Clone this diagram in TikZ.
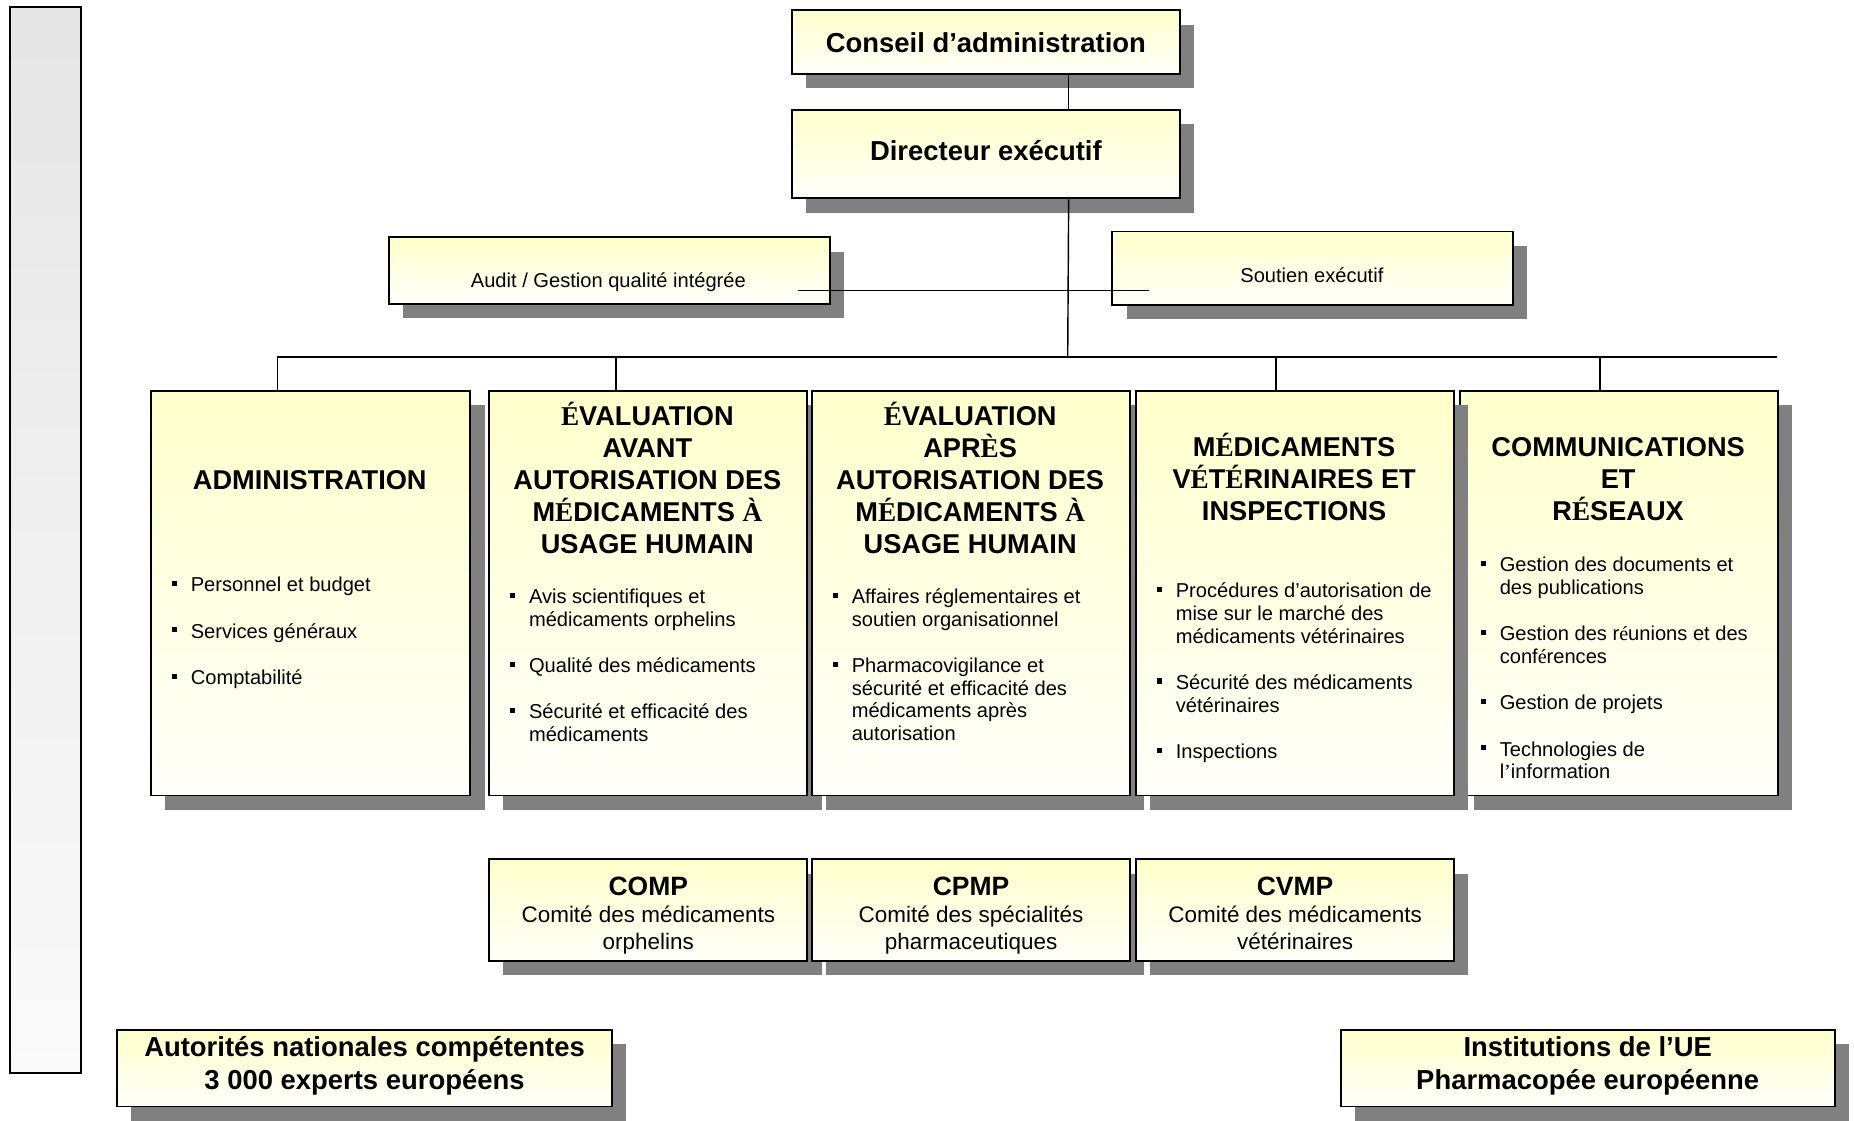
\documentclass[tikz,border=0pt]{standalone}
\usepackage{fontspec}
\setmainfont{Liberation Sans}
\newfontfamily\timesf{Liberation Serif}
\usepackage{tikz}
\usetikzlibrary{shadows}
\definecolor{boxtop}{RGB}{255,255,204}
\definecolor{boxbottom}{RGB}{255,255,250}
\definecolor{shadowgray}{RGB}{128,128,128}
\tikzstyle{box}=[rectangle,
draw=black,
line width=0.8pt,
inner sep=0pt,
anchor=north west,
top color=boxtop,
bottom color=boxbottom,
drop shadow={shadow xshift=6pt,shadow yshift=-6pt,fill=shadowgray,opacity=1}]
\tikzstyle{band}=[rectangle,
draw=black,
line width=0.8pt,
anchor=north west,
minimum width=30pt,
minimum height=451pt,
top color=black!10,
bottom color=black!2]
\tikzstyle{link}=[line width=0.6pt]
\tikzstyle{bigtext}=[font=\fontsize{11.6}{14}\selectfont\bfseries,
align=center]
\tikzstyle{smalltext}=[font=\fontsize{8.5}{10}\selectfont,
inner sep=0pt]
\tikzstyle{comtext}=[font=\fontsize{9.5}{11.5}\selectfont,
align=center]
\tikzstyle{headtext}=[font=\fontsize{11.5}{13.5}\selectfont\bfseries,
align=center,
anchor=north,
inner sep=0pt]
\tikzstyle{itemtext}=[font=\fontsize{8.5}{9.6}\selectfont,
align=left,
anchor=north west,
inner sep=0pt]
% square bullet, hanging indent, serif letters of the original
\newcommand{\bsq}{\rule{0pt}{6.5pt}\makebox[8pt][l]{\rule[2.4pt]{2.2pt}{2.2pt}}}
\newcommand{\indnt}{\hspace*{8pt}}
\newcommand{\tnr}[1]{{\timesf #1}}
\newcommand{\hstrut}{\rule{0pt}{11pt}}
% committee title and struts that fix the text in its box
\newcommand{\comname}[1]{\rule{0pt}{13pt}{\fontsize{11.2}{11.5}\selectfont\bfseries #1}}
\newcommand{\lowstrut}[1]{\rule[-#1]{0pt}{#1}}
\begin{document}
\begin{tikzpicture}[x=0.5pt,y=-0.5pt]
	% The picture sits on a 1568 x 948 grid, y pointing down.
	\useasboundingbox (0,0) rectangle (1568,948);
	
	% Grey band on the left
	\node (band) [band] at (8,5) {};
	
	% First line: board and executive director
	\node (conseil)   [box,bigtext,minimum width=164pt,minimum height=27pt]   at (669,8)  {Conseil d’administration};
	\node (directeur) [box,bigtext,minimum width=164pt,minimum height=37.5pt] at (669,92) {Directeur exécutif\lowstrut{3pt}};
	
	% Second line: staff functions
	\node (audit)   [box,minimum width=186.5pt,minimum height=28pt] at (328,200) {};
	\node (soutien) [box,minimum width=169.5pt,minimum height=31pt] at (940,195) {};
	\node (auditlbl)   [smalltext] at (514.5,239) {Audit / Gestion qualité intégrée};
	\node (soutienlbl) [smalltext] at (1109.5,233) {Soutien exécutif};
	
	% Third line: the five units
	\node (admin) [box,minimum width=135pt,minimum height=171pt]   at (127,330) {};
	\node (avant) [box,minimum width=134.5pt,minimum height=171pt] at (413,330) {};
	\node (apres) [box,minimum width=134.5pt,minimum height=171pt] at (686,330) {};
	\node (comm)  [box,minimum width=134.5pt,minimum height=171pt] at (1234,330) {};
	\node (vet)   [box,minimum width=134.5pt,minimum height=171pt] at (960,330) {};
	
	\node (adminhead) [headtext] at (262,392) {\hstrut ADMINISTRATION};
	\node (avanthead) [headtext] at (547.5,337.5)
	{\hstrut\tnr{É}VALUATION\\AVANT\\AUTORISATION DES\\M\tnr{É}DICAMENTS \tnr{À}\\USAGE HUMAIN};
	\node (apreshead) [headtext] at (820.5,337.5)
	{\hstrut\tnr{É}VALUATION\\APR\tnr{È}S\\AUTORISATION DES\\M\tnr{É}DICAMENTS \tnr{À}\\USAGE HUMAIN};
	\node (vethead)   [headtext] at (1094.5,364)
	{\hstrut M\tnr{É}DICAMENTS\\V\tnr{É}T\tnr{É}RINAIRES ET\\INSPECTIONS};
	\node (commhead)  [headtext] at (1368.5,364)
	{\hstrut COMMUNICATIONS\\ET\\R\tnr{É}SEAUX};
	
	\node (adminlist) [itemtext] at (145,487)
	{\bsq Personnel et budget\\[10pt]\bsq Services généraux\\[10pt]\bsq Comptabilité};
	\node (avantlist) [itemtext] at (431,497)
	{\bsq Avis scientifiques et\\\indnt médicaments orphelins\\[10pt]\bsq Qualité des médicaments\\[10pt]%
		\bsq Sécurité et efficacité des\\\indnt médicaments};
	\node (apreslist) [itemtext] at (704,497)
	{\bsq Affaires réglementaires et\\\indnt soutien organisationnel\\[10pt]\bsq Pharmacovigilance et\\%
		\indnt sécurité et efficacité des\\\indnt médicaments après\\\indnt autorisation};
	\node (vetlist)   [itemtext] at (978,492)
	{\bsq Procédures d’autorisation de\\\indnt mise sur le marché des\\\indnt médicaments vétérinaires\\[10pt]%
		\bsq Sécurité des médicaments\\\indnt vétérinaires\\[10pt]\bsq Inspections};
	\node (commlist)  [itemtext] at (1252,470)
	{\bsq Gestion des documents et\\\indnt des publications\\[10pt]\bsq Gestion des r\tnr{é}unions et des\\%
		\indnt conf\tnr{é}rences\\[10pt]\bsq Gestion de projets\\[10pt]\bsq Technologies de\\\indnt l\tnr{’}information};
	
	% Fourth line: scientific committees
	\node (comp) [box,comtext,minimum width=134.5pt,minimum height=43pt] at (413,726)
	{\comname{COMP}\\Comité des médicaments\\orphelins\lowstrut{2.5pt}};
	\node (cpmp) [box,comtext,minimum width=134.5pt,minimum height=43pt] at (686,726)
	{\comname{CPMP}\\Comité des spécialités\\pharmaceutiques\lowstrut{2.5pt}};
	\node (cvmp) [box,comtext,minimum width=134.5pt,minimum height=43pt] at (960,726)
	{\comname{CVMP}\\Comité des médicaments\\vétérinaires\lowstrut{2.5pt}};
	
	% Fifth line: partners
	\node (autorites)    [box,bigtext,minimum width=209.5pt,minimum height=32.5pt] at (98,870)
	{Autorités nationales compétentes\\3 000 experts européens\lowstrut{4pt}};
	\node (institutions) [box,bigtext,minimum width=209pt,minimum height=32.5pt] at (1133,870)
	{Institutions de l’UE\\Pharmacopée européenne\lowstrut{4pt}};
	
	% Now the connecting lines
	\coordinate (hub)  at (903,302);
	\coordinate (busL) at (234,302);
	\coordinate (busR) at (1503,302);
	\coordinate (qa) at ([xshift=-14pt,yshift=6pt]audit.south east);
	\coordinate (se) at ([xshift=16pt]soutien.west);
	\coordinate (dropadmin) at ([xshift=-14pt]admin.north);
	\coordinate (dropavant) at ([xshift=-13.75pt]avant.north);
	\coordinate (dropvet)   at ([xshift=-8pt]vet.north);
	\coordinate (dropcomm)  at ([xshift=-8pt]comm.north);
	
	\draw[link] ([xshift=35pt]conseil.south) -- ([xshift=35pt]directeur.north);
	\draw[link] ([xshift=35pt]directeur.south) -- (hub);
	\draw[link] (busL) -- (busR);
	\draw[link] (qa) -- (se |- qa);
	\draw[link] (dropadmin) -- (dropadmin |- busL);
	\draw[link] (dropavant) -- (dropavant |- busL);
	\draw[link] (dropvet)   -- (dropvet |- busL);
	\draw[link] (dropcomm)  -- (dropcomm |- busL);
\end{tikzpicture}
\end{document}
